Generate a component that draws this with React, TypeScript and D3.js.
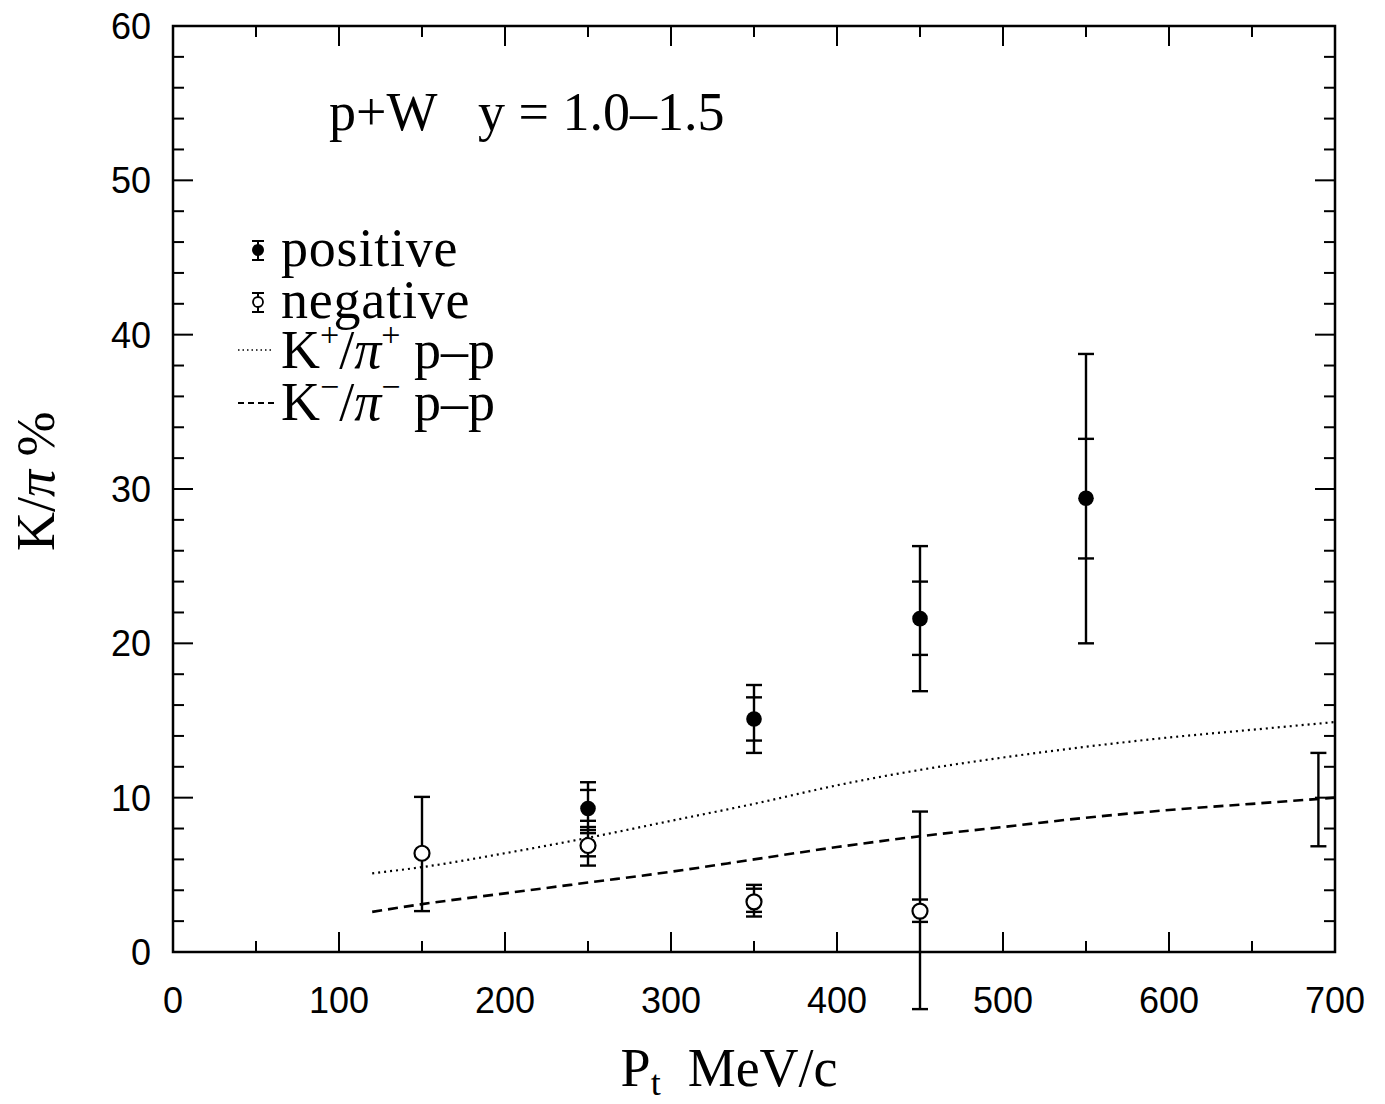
import React from "react";
import * as d3 from "d3";

// transverse momentum bins (MeV/c)
const ptPos = [250, 350, 450, 550];
const valPos = [9.3, 15.1, 21.6, 29.4];
const statLoPos = [8.5, 13.7, 19.25, 25.5];
const statHiPos = [10.5, 16.5, 24.0, 33.25];
const totLoPos = [7.9, 12.9, 16.9, 20.0];
const totHiPos = [11.0, 17.3, 26.3, 38.75];

const ptNeg = [150, 250, 350, 450];
const valNeg = [6.4, 6.9, 3.25, 2.65];
const statLoNeg = [2.65, 6.2, 2.6, 1.95];
const statHiNeg = [10.05, 7.7, 4.1, 3.4];
const totLoNeg = [2.65, 5.6, 2.3, -3.7];
const totHiNeg = [10.05, 8.1, 4.35, 9.1];

// lone systematic bar at the right edge
const sysPt = 690;
const sysLo = 6.85;
const sysHi = 12.9;

// p-p reference curves
const curvePt = [120, 150, 200, 250, 300, 350, 400, 450, 500, 550, 600, 650, 700];
const kPlusPiPlus = [5.1, 5.5, 6.4, 7.4, 8.5, 9.6, 10.8, 11.8, 12.6, 13.3, 13.9, 14.4, 14.9];
const kMinusPiMinus = [2.6, 3.1, 3.8, 4.5, 5.2, 6.0, 6.8, 7.5, 8.1, 8.7, 9.2, 9.6, 10.0];

const xTicks = [0, 100, 200, 300, 400, 500, 600, 700];
const yTicks = [0, 10, 20, 30, 40, 50, 60];

const W = 1369;
const H = 1096;
const left = 165;
const right = 1327;
const top = 18;
const bottom = 944;

const serif = "'Liberation Serif', 'DejaVu Serif', serif";
const sans = "'Liberation Sans', Arial, sans-serif";

export default function App() {
  const x = d3.scaleLinear().domain([0, 700]).range([left, right]);
  const y = d3.scaleLinear().domain([0, 60]).range([bottom, top]);

  const line = d3
    .line<number>()
    .x((_, i) => x(curvePt[i]))
    .y((d) => y(d))
    .curve(d3.curveMonotoneX);

  const minorX = d3.range(0, 701, 50);
  const minorY = d3.range(0, 61, 2);

  const cap = (px: number, v: number, half = 8) => (
    <line x1={px - half} x2={px + half} y1={y(v)} y2={y(v)} />
  );

  const errBar = (pt: number, lo1: number, hi1: number, lo2: number, hi2: number, key: string) => {
    const px = x(pt);
    return (
      <g key={key} stroke="#000" strokeWidth={2.4}>
        <line x1={px} x2={px} y1={y(lo2)} y2={y(hi2)} />
        {cap(px, lo2)}
        {cap(px, hi2)}
        {lo1 !== lo2 && cap(px, lo1)}
        {hi1 !== hi2 && cap(px, hi1)}
      </g>
    );
  };

  return (
    <svg width={W} height={H} style={{ display: "block", background: "#fff" }}>
      {/* frame */}
      <rect x={left} y={top} width={right - left} height={bottom - top} fill="none" stroke="#000" strokeWidth={2.5} />

      {/* ticks, all four sides pointing in */}
      <g stroke="#000" strokeWidth={2}>
        {minorX.map((v) => {
          const len = v % 100 === 0 ? 20 : 11;
          return (
            <g key={"xt" + v}>
              <line x1={x(v)} x2={x(v)} y1={bottom} y2={bottom - len} />
              <line x1={x(v)} x2={x(v)} y1={top} y2={top + len} />
            </g>
          );
        })}
        {minorY.map((v) => {
          const len = v % 10 === 0 ? 20 : 11;
          return (
            <g key={"yt" + v}>
              <line x1={left} x2={left + len} y1={y(v)} y2={y(v)} />
              <line x1={right} x2={right - len} y1={y(v)} y2={y(v)} />
            </g>
          );
        })}
      </g>

      {/* tick labels */}
      <g fontFamily={sans} fontSize={36} fill="#000">
        {xTicks.map((v) => (
          <text key={"xl" + v} x={x(v)} y={bottom + 61} textAnchor="middle">
            {v}
          </text>
        ))}
        {yTicks.map((v) => (
          <text key={"yl" + v} x={left - 22} y={y(v) + 13} textAnchor="end">
            {v}
          </text>
        ))}
      </g>

      {/* axis titles */}
      <text x={x(335)} y={1078} textAnchor="middle" fontFamily={serif} fontSize={54}>
        P<tspan fontSize={36} dy={9}>t</tspan>
        <tspan dy={-9}>{"\u00a0\u00a0MeV/c"}</tspan>
      </text>
      <text
        transform={`translate(46, ${y(30.5)}) rotate(-90)`}
        textAnchor="middle"
        fontFamily={serif}
        fontSize={54}
      >
        K/<tspan fontStyle="italic">π</tspan> %
      </text>

      {/* annotation */}
      <text x={x(94)} y={122} fontFamily={serif} fontSize={54}>
        p+W{"\u00a0\u00a0\u00a0"}y = 1.0–1.5
      </text>

      {/* p-p curves */}
      <path
        d={line(kPlusPiPlus) ?? ""}
        fill="none"
        stroke="#000"
        strokeWidth={2.2}
        strokeDasharray="2 4"
      />
      <path
        d={line(kMinusPiMinus) ?? ""}
        fill="none"
        stroke="#000"
        strokeWidth={2.6}
        strokeDasharray="10 6"
      />

      {/* error bars */}
      {ptNeg.map((p, i) => errBar(p, statLoNeg[i], statHiNeg[i], totLoNeg[i], totHiNeg[i], "n" + i))}
      {ptPos.map((p, i) => errBar(p, statLoPos[i], statHiPos[i], totLoPos[i], totHiPos[i], "p" + i))}
      {errBar(sysPt, sysLo, sysHi, sysLo, sysHi, "sys")}

      {/* markers */}
      {ptNeg.map((p, i) => (
        <circle key={"nc" + i} cx={x(p)} cy={y(valNeg[i])} r={7.5} fill="#fff" stroke="#000" strokeWidth={2.2} />
      ))}
      {ptPos.map((p, i) => (
        <circle key={"pc" + i} cx={x(p)} cy={y(valPos[i])} r={7.8} fill="#000" />
      ))}

      {/* legend */}
      <g fontFamily={serif} fontSize={54} fill="#000">
        <g stroke="#000" strokeWidth={2}>
          <line x1={250} x2={250} y1={233} y2={252} />
          <line x1={244} x2={256} y1={233} y2={233} />
          <line x1={244} x2={256} y1={252} y2={252} />
          <line x1={250} x2={250} y1={285} y2={304} />
          <line x1={244} x2={256} y1={285} y2={285} />
          <line x1={244} x2={256} y1={304} y2={304} />
        </g>
        <circle cx={250} cy={242} r={6} fill="#000" />
        <circle cx={250} cy={294} r={5} fill="#fff" stroke="#000" strokeWidth={1.8} />
        <line x1={230} x2={266} y1={342} y2={342} stroke="#000" strokeWidth={1.6} strokeDasharray="1.5 3" />
        <line x1={230} x2={266} y1={395} y2={395} stroke="#000" strokeWidth={2} strokeDasharray="6 4" />
        <text x={273} y={258} letterSpacing={0.8}>positive</text>
        <text x={273} y={310} letterSpacing={0.8}>negative</text>
        <text x={273} y={360}>
          K<tspan fontSize={34} dy={-22}>+</tspan>
          <tspan dy={22}>/</tspan>
          <tspan fontStyle="italic">π</tspan>
          <tspan fontSize={34} dy={-22}>+</tspan>
          <tspan dy={22}>{"\u00a0p–p"}</tspan>
        </text>
        <text x={273} y={412}>
          K<tspan fontSize={34} dy={-22}>−</tspan>
          <tspan dy={22}>/</tspan>
          <tspan fontStyle="italic">π</tspan>
          <tspan fontSize={34} dy={-22}>−</tspan>
          <tspan dy={22}>{"\u00a0p–p"}</tspan>
        </text>
      </g>
    </svg>
  );
}
